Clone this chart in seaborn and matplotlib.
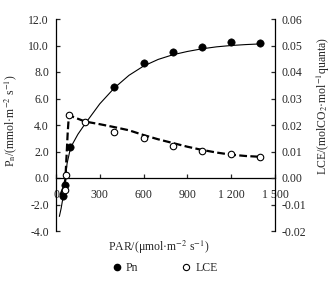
import matplotlib
matplotlib.use("Agg")
import matplotlib.pyplot as plt
from matplotlib.lines import Line2D
import seaborn as sns

# measured points
pn_par = [45, 60, 95, 400, 600, 800, 1000, 1200, 1400]
pn = [-1.35, -0.55, 2.35, 6.9, 8.7, 9.5, 9.85, 10.3, 10.2]
lce_par = [64, 69, 88, 200, 400, 600, 800, 1000, 1200, 1400]
lce = [-0.0045, 0.0012, 0.0237, 0.0211, 0.0172, 0.0151, 0.0121, 0.0102, 0.0091, 0.0079]

# fitted curves
fit_par = [23, 35, 46, 60, 76, 100, 150, 200, 300, 400, 500, 600, 700, 800, 900, 1000, 1100, 1200, 1300, 1400]
fit_pn = [-2.9, -2.3, -1.6, -0.4, 1.1, 2.3, 3.3, 4.1, 5.6, 6.8, 7.75, 8.45, 8.95, 9.3, 9.55, 9.75, 9.9, 10.0,
          10.07, 10.12]
lfit_par = [30, 48, 64, 72, 80, 88, 100, 200, 300, 400, 500, 600, 700, 800, 900, 1000, 1100, 1200, 1300, 1400]
lfit = [-0.0064, -0.004, -0.0007, 0.008, 0.017, 0.0235, 0.0234, 0.0213, 0.0203, 0.0192, 0.018, 0.0162, 0.0146,
        0.0132, 0.0118, 0.0106, 0.0096, 0.0088, 0.0083, 0.008]

x_ticks = [0, 300, 600, 900, 1200, 1500]
x_labels = ["0", "300", "600", "900", "1 200", "1 500"]

sns.set_style("ticks")
plt.rcParams["font.family"] = ["Liberation Serif", "DejaVu Serif"]
plt.rcParams["mathtext.fontset"] = "stix"
plt.rcParams["font.size"] = 8.5

fig = plt.figure(figsize=(3.36, 2.81), dpi=100)
ax = fig.add_axes([56 / 336, 50 / 281, 219 / 336, 212 / 281])
ax2 = ax.twinx()

sns.lineplot(x=fit_par, y=fit_pn, ax=ax, color="black", lw=0.8, sort=False, zorder=2)
sns.scatterplot(x=pn_par, y=pn, ax=ax, color="black", s=28, edgecolor="black", zorder=3)
sns.lineplot(x=lfit_par, y=lfit, ax=ax2, color="black", lw=1.6, sort=False, zorder=2,
             dashes=False, linestyle=(0, (3.5, 1.5)))
sns.scatterplot(x=lce_par, y=lce, ax=ax2, facecolor="white", edgecolor="black", s=22,
                linewidth=0.8, zorder=3)

ax.set_xlim(0, 1500)
ax.set_ylim(-4, 12)
ax2.set_ylim(-0.02, 0.06)
ax.set_xticks(x_ticks)
ax.set_xticklabels(x_labels)
ax.set_yticks([-4, -2, 0, 2, 4, 6, 8, 10, 12])
ax.set_yticklabels([f"{v:.1f}" for v in ax.get_yticks()])
ax2.set_yticks([-0.02, -0.01, 0, 0.01, 0.02, 0.03, 0.04, 0.05, 0.06])
ax2.set_yticklabels([f"{v:.2f}" for v in ax2.get_yticks()])

ax.spines["bottom"].set_position(("data", 0))
for s in ["top", "right"]:
    ax.spines[s].set_visible(False)
for s in ["top", "left", "bottom"]:
    ax2.spines[s].set_visible(False)
for sp in list(ax.spines.values()) + list(ax2.spines.values()):
    sp.set_linewidth(0.9)
    sp.set_color("black")

ax.tick_params(axis="x", direction="in", length=3, width=0.9, pad=8)
ax.tick_params(axis="y", direction="in", length=3, width=0.9, pad=5)
ax2.tick_params(axis="y", direction="in", length=3, width=0.9, pad=5)

ax.set_xlabel("PAR/(μmol·m$^{-2}$ s$^{-1}$)")
ax.xaxis.set_label_coords(0.47, -0.035)
ax.set_ylabel("P$_\\mathrm{n}$/(mmol·m$^{-2}$ s$^{-1}$)")
ax.yaxis.set_label_coords(-0.17, 0.52)
ax2.set_ylabel("LCE/(molCO$_2$·mol$^{-1}$quanta)")
ax2.yaxis.set_label_coords(1.18, 0.59)

handles = [
    Line2D([], [], marker="o", ls="none", color="black", markersize=4.5),
    Line2D([], [], marker="o", ls="none", markerfacecolor="white", markeredgecolor="black",
           markersize=4.5, markeredgewidth=0.8),
]
fig.legend(handles, ["Pn", "LCE"], loc="center", bbox_to_anchor=(0.49, 1 - 268 / 281), ncol=2,
           frameon=False, handlelength=0.8, handletextpad=0.4, columnspacing=3.6)

fig.savefig("out.png", dpi=100)
